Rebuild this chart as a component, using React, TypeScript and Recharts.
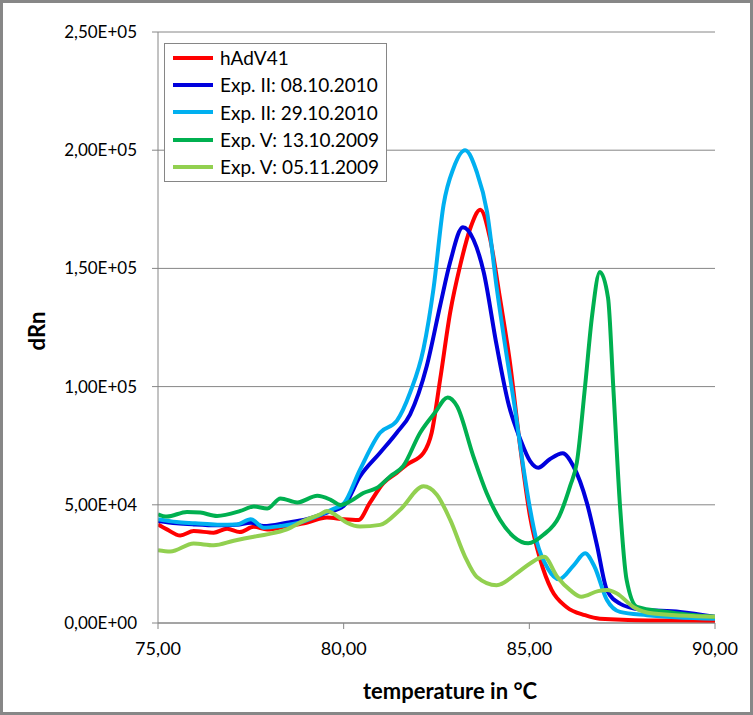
import React from 'react';
import { LineChart, Line, XAxis, YAxis, CartesianGrid, Legend, Label } from 'recharts';

const seriesNames = ['hAdV41', 'Exp. II: 08.10.2010', 'Exp. II: 29.10.2010', 'Exp. V: 13.10.2009', 'Exp. V: 05.11.2009'];
const seriesColors = ['#FF0000', '#0000DD', '#00B0F0', '#00B050', '#92D050'];

const redT = [75.0, 75.24, 75.6, 75.96, 76.5, 76.86, 77.2, 77.58, 77.94, 78.47, 79.0, 79.55, 80.0, 80.4, 80.7, 81.07, 81.43, 81.7, 82.15, 82.37, 82.6, 82.87, 83.14, 83.41, 83.68, 83.94, 84.21, 84.48, 84.75, 85.02, 85.29, 85.6, 86.0, 86.5, 86.9, 88.2, 89.5, 90.0];
const redV = [41700, 39600, 37000, 38900, 38200, 39900, 38500, 40700, 39600, 41000, 42400, 44600, 43900, 43600, 50700, 59200, 63500, 67000, 72000, 80500, 103200, 131500, 151400, 167000, 174800, 162800, 137300, 110000, 75000, 45000, 27000, 14000, 6800, 3300, 1800, 1100, 1000, 700];

const blueT = [75.0, 75.5, 75.96, 76.6, 77.13, 77.5, 77.85, 78.47, 79.0, 79.55, 80.0, 80.44, 80.98, 81.43, 81.79, 82.24, 82.6, 82.87, 83.21, 83.5, 83.77, 84.12, 84.45, 84.75, 85.02, 85.24, 85.55, 85.9, 86.18, 86.55, 86.82, 87.09, 87.44, 87.98, 89.06, 90.0];
const blueV = [43200, 42200, 41700, 41300, 41600, 42400, 41000, 42400, 43900, 46700, 49500, 62000, 72000, 80500, 88300, 108800, 134400, 152800, 167400, 162000, 148500, 117400, 92000, 78000, 68500, 65700, 69300, 71800, 66500, 50800, 33000, 13900, 8200, 5700, 4700, 2600];

const cyanT = [75.0, 75.5, 76.0, 76.6, 77.13, 77.5, 77.85, 78.3, 78.8, 79.3, 79.7, 80.0, 80.44, 80.98, 81.43, 81.79, 82.15, 82.42, 82.69, 82.96, 83.27, 83.58, 83.86, 84.12, 84.4, 84.6, 84.8, 85.0, 85.2, 85.5, 85.8, 86.2, 86.5, 86.75, 87.09, 87.44, 88.17, 90.0];
const cyanV = [43900, 42700, 42200, 41600, 41700, 43900, 40300, 41000, 42400, 45300, 48100, 50500, 64900, 80500, 85500, 97500, 116000, 141500, 176900, 192500, 200000, 191000, 174000, 142000, 112000, 92000, 70000, 50000, 34500, 23000, 18500, 24500, 29500, 24000, 9700, 4700, 3300, 1800];

const greenT = [75.0, 75.24, 75.78, 76.14, 76.59, 77.22, 77.58, 77.94, 78.3, 78.75, 79.29, 79.65, 79.92, 80.2, 80.53, 80.89, 81.25, 81.6, 82.06, 82.46, 82.8, 83.05, 83.49, 83.85, 84.21, 84.57, 84.97, 85.38, 85.8, 86.1, 86.28, 86.5, 86.69, 86.9, 87.12, 87.26, 87.44, 87.62, 87.9, 88.7, 90.0];
const greenV = [46000, 45000, 47000, 46700, 45300, 47400, 49300, 48400, 52700, 51000, 53800, 52100, 49900, 51700, 55000, 57100, 62000, 66300, 80500, 89000, 95400, 91800, 70600, 55000, 43700, 36600, 33700, 37300, 45000, 58000, 67900, 100000, 130000, 148500, 137500, 100000, 50000, 18200, 6800, 4700, 2600];

const limeT = [75.0, 75.33, 75.96, 76.5, 77.04, 77.58, 77.94, 78.47, 78.92, 79.37, 79.55, 79.82, 80.09, 80.44, 80.98, 81.52, 82.15, 82.51, 82.87, 83.27, 83.58, 84.12, 84.66, 85.02, 85.4, 85.75, 86.1, 86.4, 86.85, 87.1, 87.36, 87.8, 88.34, 90.0];
const limeV = [30800, 30200, 33600, 32900, 34800, 36500, 37500, 39600, 43200, 46000, 47400, 45300, 42400, 40800, 41500, 47900, 57800, 54300, 43600, 28000, 19600, 16000, 21000, 25200, 28000, 19600, 13900, 11100, 13500, 14000, 12500, 6800, 4000, 2600];

const xTicks = [75, 80, 85, 90];
const xTickLabels = ['75,00', '80,00', '85,00', '90,00'];
const yTicks = [0, 50000, 100000, 150000, 200000, 250000];
const yTickLabels = ['0,00E+00', '5,00E+04', '1,00E+05', '1,50E+05', '2,00E+05', '2,50E+05'];

const build = (t: number[], v: number[]) => t.map((x, i) => ({ t: x, v: v[i] }));
const seriesData = [build(redT, redV), build(blueT, blueV), build(cyanT, cyanV), build(greenT, greenV), build(limeT, limeV)];

const FONT = 'Lato, "Open Sans", sans-serif';
const GRAY = '#868686';

const LegendBox = () => (
  <div style={{ boxSizing: 'border-box', width: 223, height: 139, border: `1px solid ${GRAY}`, background: '#fff', fontFamily: FONT }}>
    {seriesNames.map((n, i) => (
      <div key={n} style={{ height: 27.3, display: 'flex', alignItems: 'center' }}>
        <div style={{ marginLeft: 8, width: 40, height: 4, background: seriesColors[i] }} />
        <span style={{ marginLeft: 7, fontSize: 19, lineHeight: 1, color: '#000' }}>{n}</span>
      </div>
    ))}
  </div>
);

export default function App() {
  return (
    <div style={{ position: 'absolute', left: 0, top: 0, width: 753, height: 715, background: '#fff', fontFamily: FONT }}>
      <LineChart width={753} height={715} margin={{ top: 32, right: 38, bottom: 0, left: 0 }}>
        <CartesianGrid vertical={false} stroke={GRAY} strokeWidth={1} />
        <XAxis
          dataKey="t"
          type="number"
          domain={[75, 90]}
          ticks={xTicks}
          allowDataOverflow
          tickFormatter={(v: number) => xTickLabels[xTicks.indexOf(v)]}
          height={92}
          tickSize={6}
          tickMargin={13}
          axisLine={{ stroke: GRAY, strokeWidth: 1 }}
          tickLine={{ stroke: GRAY }}
          tick={{ fill: '#000', fontSize: 18, fontFamily: FONT }}
        >
          <Label
            content={() => (
              <text x={450} y={699} textAnchor="middle" fontSize={22} fontWeight="bold" fontFamily={FONT} fill="#000">
                temperature in °C
              </text>
            )}
          />
        </XAxis>
        <YAxis
          type="number"
          domain={[0, 250000]}
          ticks={yTicks}
          allowDataOverflow
          tickFormatter={(v: number) => yTickLabels[yTicks.indexOf(v)]}
          width={158}
          tickSize={6}
          tickMargin={15}
          axisLine={{ stroke: GRAY, strokeWidth: 1 }}
          tickLine={{ stroke: GRAY }}
          tick={{ fill: '#000', fontSize: 17, fontFamily: FONT }}
        >
          <Label
            content={() => (
              <text x={45} y={331} transform="rotate(-90 45 331)" textAnchor="middle" fontSize={22} fontWeight="bold" fontFamily={FONT} fill="#000">
                dRn
              </text>
            )}
          />
        </YAxis>
        <Legend
          layout="vertical"
          align="center"
          verticalAlign="middle"
          wrapperStyle={{ left: 164, top: 43, width: 223, height: 139 }}
          content={() => <LegendBox />}
        />
        {seriesData.map((d, i) => (
          <Line
            key={seriesNames[i]}
            data={d}
            dataKey="v"
            name={seriesNames[i]}
            type="monotone"
            stroke={seriesColors[i]}
            strokeWidth={4}
            dot={false}
            activeDot={false}
            isAnimationActive={false}
          />
        ))}
      </LineChart>
      <div style={{ position: 'absolute', left: 0, top: 0, width: 753, height: 715, boxSizing: 'border-box', border: '3px solid #878787', pointerEvents: 'none' }} />
    </div>
  );
}
